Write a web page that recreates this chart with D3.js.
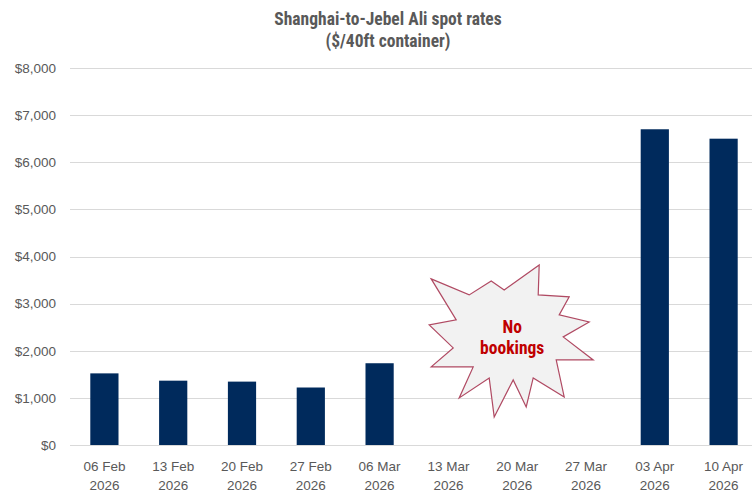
<!DOCTYPE html>
<html>
<head>
<meta charset="utf-8">
<script src="https://cdn.jsdelivr.net/npm/d3@7/dist/d3.min.js"></script>
<style>
  html, body { margin: 0; padding: 0; background: #ffffff; }
  svg { display: block; }
</style>
</head>
<body>
<div id="chart"></div>
<script>
// Weekly spot rates, Shanghai to Jebel Ali ($ per 40ft container)
const weeks = ["06 Feb 2026", "13 Feb 2026", "20 Feb 2026", "27 Feb 2026", "06 Mar 2026",
               "13 Mar 2026", "20 Mar 2026", "27 Mar 2026", "03 Apr 2026", "10 Apr 2026"];
const rates = [1520, 1365, 1345, 1220, 1735, null, null, null, 6700, 6500];
const yTicks = [0, 1000, 2000, 3000, 4000, 5000, 6000, 7000, 8000];
const titleLines = ["Shanghai-to-Jebel Ali spot rates", "($/40ft container)"];
const calloutLines = ["No", "bookings"];
const calloutAnchor = { week: "20 Mar 2026", value: 2230 };

const width = 752, height = 493;
const margin = { top: 68, right: -6, bottom: 48, left: 70 };

const svg = d3.select("#chart").append("svg")
  .attr("width", width).attr("height", height);

const x = d3.scaleBand()
  .domain(weeks)
  .range([margin.left, width - margin.right])
  .paddingInner(0.59)
  .paddingOuter(0.295);

const y = d3.scaleLinear()
  .domain([0, 8000])
  .range([height - margin.bottom, margin.top]);

const axisFont = "Arial, 'Liberation Sans', sans-serif";
const narrowFont = "'Liberation Sans Narrow', 'Arial Narrow', 'Roboto Condensed', Arial, sans-serif";

// Horizontal gridlines
svg.append("g")
  .selectAll("line")
  .data(yTicks)
  .join("line")
  .attr("x1", margin.left)
  .attr("x2", width)
  .attr("y1", d => Math.round(y(d)) + 0.5)
  .attr("y2", d => Math.round(y(d)) + 0.5)
  .attr("stroke", "#d9d9d9")
  .attr("stroke-width", 1);

// Y axis labels
const yAxis = d3.axisLeft(y)
  .tickValues(yTicks)
  .tickSize(0)
  .tickPadding(0)
  .tickFormat(d => "$" + d3.format(",")(d));

svg.append("g")
  .attr("transform", `translate(${margin.left - 14},0)`)
  .call(yAxis)
  .call(g => g.select(".domain").remove())
  .call(g => g.selectAll("text")
    .attr("fill", "#595959")
    .style("font-family", axisFont)
    .style("font-size", "13.5px"));

// Bars
svg.append("g")
  .selectAll("rect")
  .data(weeks.map((w, i) => ({ week: w, value: rates[i] })).filter(d => d.value != null))
  .join("rect")
  .attr("x", d => x(d.week))
  .attr("width", x.bandwidth())
  .attr("y", d => y(d.value))
  .attr("height", d => y(0) - y(d.value))
  .attr("fill", "#002a5c");

// X axis: two-line labels (day month / year)
const xAxis = d3.axisBottom(x).tickSize(0).tickPadding(0).tickFormat("");
const xg = svg.append("g")
  .attr("transform", `translate(0,${y(0)})`)
  .call(xAxis)
  .call(g => g.select(".domain").remove());

xg.selectAll(".tick").each(function (d) {
  const parts = d.split(" ");
  const t = d3.select(this).append("text")
    .attr("text-anchor", "middle")
    .attr("fill", "#595959")
    .style("font-family", axisFont)
    .style("font-size", "13.5px");
  t.append("tspan").attr("x", 0).attr("y", 26).text(parts[0] + " " + parts[1]);
  t.append("tspan").attr("x", 0).attr("y", 45).text(parts[2]);
});

// Title
svg.append("text")
  .attr("text-anchor", "middle")
  .attr("fill", "#595959")
  .style("font-family", narrowFont)
  .style("font-weight", "bold")
  .style("font-size", "17.5px")
  .selectAll("tspan")
  .data(titleLines)
  .join("tspan")
  .attr("x", 388)
  .attr("y", (d, i) => 25 + i * 22)
  .text(d => d);

// Starburst callout over the weeks with no bookings
const cx = x(calloutAnchor.week) + x.bandwidth() / 2 - 4;
const cy = y(calloutAnchor.value);
const burst = [
  [-82, -61], [-44, -45], [-22, -59], [-9, -50], [26, -75], [25, -45],
  [56, -43], [46, -25], [76, -18], [50, -3], [80, 20], [43, 20],
  [51, 57], [20, 38], [13, 67], [0, 40], [-19, 77], [-24, 38],
  [-54, 58], [-40, 27], [-82, 27], [-60, 8], [-84, -15], [-57, -20]
];
svg.append("polygon")
  .attr("points", burst.map(p => [cx + p[0], cy + p[1]].join(",")).join(" "))
  .attr("fill", "#f2f2f2")
  .attr("stroke", "#b04a63")
  .attr("stroke-width", 1.2)
  .attr("stroke-linejoin", "miter");

svg.append("text")
  .attr("text-anchor", "middle")
  .attr("fill", "#c00000")
  .style("font-family", narrowFont)
  .style("font-weight", "bold")
  .style("font-size", "17.5px")
  .selectAll("tspan")
  .data(calloutLines)
  .join("tspan")
  .attr("x", cx - 1)
  .attr("y", (d, i) => cy - 7 + i * 21)
  .text(d => d);
</script>
</body>
</html>
